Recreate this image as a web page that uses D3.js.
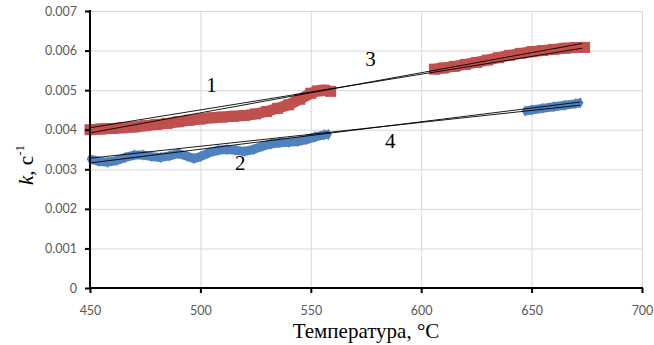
<!DOCTYPE html>
<html>
<head>
<meta charset="utf-8">
<script src="https://cdn.jsdelivr.net/npm/d3@7"></script>
<style>
  html, body { margin: 0; padding: 0; background: #fff; }
  svg { display: block; }
</style>
</head>
<body>
<svg id="chart" width="654" height="345"></svg>
<script>
"use strict";

(function () {

/* ── Data ─────────────────────────────────────────────────────────── */

// red series (squares), low-temperature part: [T, k]
const redLow = [
  [450, 0.00400], [455, 0.00402], [460, 0.00403], [465, 0.00405], [470, 0.00407],
  [475, 0.00410], [480, 0.00413], [485, 0.00416], [490, 0.00420], [495, 0.00424],
  [500, 0.00427], [505, 0.00430], [510, 0.00432], [515, 0.00434], [520, 0.00436],
  [525, 0.00440], [530, 0.00446], [535, 0.00454], [540, 0.00463], [545, 0.00477],
  [550, 0.00492], [553, 0.00498], [556, 0.00500], [559, 0.00497]
];
// red series, high-temperature part
const redHigh = [
  [606, 0.00553], [610, 0.00556], [615, 0.00560], [620, 0.00565], [625, 0.00570],
  [630, 0.00576], [635, 0.00582], [640, 0.00588], [645, 0.00593], [650, 0.00597],
  [655, 0.00600], [660, 0.00603], [665, 0.00606], [670, 0.00608], [674, 0.00608]
];
// blue series (diamonds), low-temperature part
const blueLow = [
  [450, 0.00326], [454, 0.00320], [458, 0.00318], [462, 0.00322], [466, 0.00330],
  [470, 0.00336], [474, 0.00336], [478, 0.00332], [482, 0.00330], [486, 0.00334],
  [490, 0.00340], [494, 0.00333], [497, 0.00327], [500, 0.00332], [504, 0.00342],
  [508, 0.00348], [512, 0.00350], [516, 0.00348], [520, 0.00345], [524, 0.00350],
  [528, 0.00358], [532, 0.00364], [536, 0.00367], [540, 0.00368], [544, 0.00370],
  [548, 0.00375], [552, 0.00382], [556, 0.00387], [558, 0.00388]
];
// blue series, high-temperature part
const blueHigh = [
  [647, 0.00447], [650, 0.00450], [655, 0.00454], [660, 0.00458], [665, 0.00462],
  [670, 0.00466], [672, 0.00468]
];

// thin black trend lines: [[T0, k0], [T1, k1]]
const trendLines = [
  [[450, 0.00392], [673, 0.00618]],
  [[450, 0.00405], [673, 0.00606]],
  [[450, 0.00316], [672, 0.00470]],
  [[450, 0.00328], [672, 0.00462]]
];

// curve numbers: [label, T, k]
const curveLabels = [
  ["1", 505, 0.00496],
  ["3", 577, 0.00562],
  ["2", 518, 0.00299],
  ["4", 586, 0.00354]
];

const xTicks = [450, 500, 550, 600, 650, 700];
const yTicks = [0, 0.001, 0.002, 0.003, 0.004, 0.005, 0.006, 0.007];

/* ── Layout ───────────────────────────────────────────────────────── */

const padL = 90, padR = 642, padT = 11, padB = 288;
const RED = "#c0504d", BLUE = "#4f81bd";

const svg = d3.select("#chart");

const x = d3.scaleLinear().domain([450, 700]).range([padL, padR]);
const y = d3.scaleLinear().domain([0, 0.007]).range([padB, padT]);

/* grid */
svg.append("g")
  .selectAll("line").data(yTicks.slice(1)).join("line")
  .attr("x1", padL).attr("x2", padR)
  .attr("y1", d => y(d) + 0.5).attr("y2", d => y(d) + 0.5)
  .attr("stroke", "#d9d9d9").attr("stroke-width", 1);

svg.append("g")
  .selectAll("line").data(xTicks.slice(1)).join("line")
  .attr("x1", d => x(d) + 0.5).attr("x2", d => x(d) + 0.5)
  .attr("y1", padT).attr("y2", padB)
  .attr("stroke", "#d9d9d9").attr("stroke-width", 1);

/* series */
const line = d3.line().x(d => x(d[0])).y(d => y(d[1]));

function band(data, color, width, join) {
  svg.append("path")
    .datum(data)
    .attr("d", line)
    .attr("fill", "none")
    .attr("stroke", color)
    .attr("stroke-width", width)
    .attr("stroke-linejoin", join)
    .attr("stroke-linecap", "butt");
}

const square = d3.symbol().type(d3.symbolSquare).size(121);
const diamond = d3.symbol().type(d3.symbolDiamond).size(38);

function markers(data, color, sym) {
  svg.append("g")
    .selectAll("path").data(data).join("path")
    .attr("transform", d => "translate(" + x(d[0]) + "," + y(d[1]) + ")")
    .attr("d", sym)
    .attr("fill", color);
}

[redLow, redHigh].forEach(function (s) {
  band(s, RED, 11, "miter");
  markers(s, RED, square);
});
[blueLow, blueHigh].forEach(function (s) {
  band(s, BLUE, 9, "round");
  markers(s, BLUE, diamond);
});

/* trend lines */
svg.append("g")
  .selectAll("path").data(trendLines).join("path")
  .attr("d", line)
  .attr("fill", "none")
  .attr("stroke", "#000")
  .attr("stroke-width", 0.9);

/* axes */
const yAxis = svg.append("g")
  .attr("transform", "translate(" + padL + ",0)")
  .call(d3.axisLeft(y).tickValues(yTicks).tickSize(5).tickPadding(8)
    .tickFormat(d => d === 0 ? "0" : d3.format(".3f")(d)));

const xAxis = svg.append("g")
  .attr("transform", "translate(0," + padB + ")")
  .call(d3.axisBottom(x).tickValues(xTicks).tickSize(5).tickPadding(13));

[yAxis, xAxis].forEach(function (g) {
  g.select(".domain").attr("stroke", "#000").attr("stroke-width", 2);
  g.selectAll(".tick line").attr("stroke", "#000").attr("stroke-width", 2);
  g.selectAll(".tick text")
    .attr("fill", "#595959")
    .attr("font-family", "Lato, 'Open Sans', sans-serif")
    .attr("font-size", 12.5);
});
yAxis.select(".domain").attr("d", "M0," + (padT - 1) + "V" + (padB + 1));
xAxis.select(".domain").attr("d", "M" + (padL - 1) + ",0H" + (padR + 1));

/* curve numbers */
svg.append("g")
  .selectAll("text").data(curveLabels).join("text")
  .attr("x", d => x(d[1]))
  .attr("y", d => y(d[2]))
  .attr("text-anchor", "middle")
  .attr("font-family", "'Liberation Serif', 'Times New Roman', serif")
  .attr("font-size", 21)
  .attr("fill", "#000")
  .text(d => d[0]);

/* axis titles */
svg.append("text")
  .attr("x", 366).attr("y", 338)
  .attr("text-anchor", "middle")
  .attr("font-family", "'Liberation Serif', 'Times New Roman', serif")
  .attr("font-size", 21)
  .attr("fill", "#000")
  .text("Температура, °С");

const yt = svg.append("text")
  .attr("transform", "translate(33,165) rotate(-90)")
  .attr("text-anchor", "middle")
  .attr("font-family", "'Liberation Serif', 'Times New Roman', serif")
  .attr("font-size", 21)
  .attr("fill", "#000");
yt.append("tspan").attr("font-style", "italic").text("k");
yt.append("tspan").text(", с");
yt.append("tspan").attr("font-size", 13).attr("dy", -9).text("-1");

}());
</script>
</body>
</html>
